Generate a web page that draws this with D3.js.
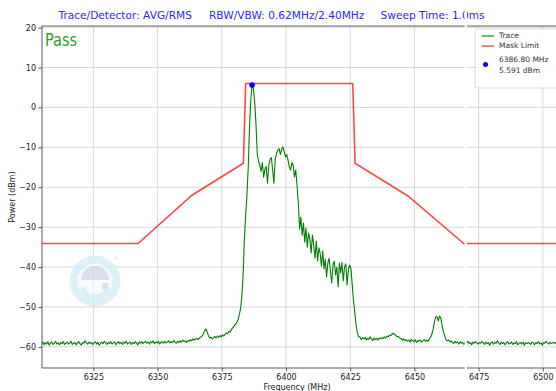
<!DOCTYPE html>
<html><head><meta charset="utf-8">
<script src="https://cdn.jsdelivr.net/npm/d3@7"></script>
<style>body{margin:0;background:#fff;} text{font-family:"DejaVu Sans",sans-serif;}</style>
</head><body><svg id="c" width="556" height="391"></svg>
<script>
// ---- data ----
const traceStart = 6304.8;   // MHz
const traceStep = 0.5;       // MHz
const tracePower = [
-59.2,-58.8,-59.5,-58.9,-59.3,-58.7,-59.6,-59.0,-58.8,-59.4,-59.1,-58.6,-59.3,-59.0,-59.5,-58.9,-59.2,-58.7,-59.4,-59.1,
-58.8,-59.3,-59.0,-58.6,-59.4,-59.1,-58.9,-59.5,-59.0,-58.7,-59.2,-59.6,-58.9,-59.1,-58.5,-59.0,-59.3,-58.8,-59.2,-58.9,
-59.4,-59.0,-58.7,-59.3,-58.9,-59.6,-59.1,-58.8,-59.2,-58.6,-59.0,-59.4,-58.9,-59.2,-58.7,-59.3,-59.0,-58.8,-59.5,-59.0,
-58.7,-59.2,-58.9,-59.4,-58.8,-59.1,-58.6,-59.3,-59.0,-58.8,-59.4,-58.9,-59.2,-58.7,-59.0,-59.5,-58.8,-59.1,-58.7,-59.2,
-58.9,-58.6,-59.1,-58.8,-59.3,-58.7,-59.0,-58.5,-59.2,-58.8,-59.0,-58.6,-59.3,-58.9,-58.7,-59.1,-58.6,-59.0,-58.8,-58.5,
-59.0,-58.7,-58.9,-58.4,-58.8,-59.1,-58.6,-58.9,-58.5,-58.8,-58.3,-58.7,-58.5,-58.9,-58.4,-58.6,-58.2,-58.5,-58.0,-58.3,
-58.1,-57.9,-58.2,-57.8,-57.6,-57.3,-56.8,-56.0,-55.5,-56.2,-57.2,-57.8,-57.6,-58.0,-57.7,-57.4,-57.8,-57.3,-57.6,-57.2,
-57.5,-57.0,-57.3,-56.8,-56.5,-56.7,-56.1,-56.3,-55.6,-55.2,-54.8,-54.3,-54.0,-53.2,-52.0,-50.5,-47.5,-42.0,-33.0,-27.0,
-22.0,-15.0,-5.0,2.0,5.591,4.8,1.5,-4.0,-11.5,-13.5,-14.5,-16.0,-13.8,-17.5,-15.5,-14.8,-19.0,-14.5,-13.0,-12.6,
-15.7,-19.0,-13.0,-11.5,-10.7,-10.3,-11.8,-10.5,-9.9,-11.1,-12.4,-11.8,-13.2,-14.9,-15.7,-13.8,-14.5,-17.4,-15.7,-19.5,
-24.0,-30.5,-27.5,-32.0,-29.0,-33.8,-30.2,-35.0,-31.5,-33.0,-36.5,-32.0,-34.5,-37.8,-33.5,-38.5,-35.2,-36.5,-39.8,-36.0,
-40.5,-38.0,-42.5,-39.0,-37.8,-41.0,-44.0,-39.5,-38.5,-42.0,-40.0,-45.0,-39.0,-41.5,-38.8,-43.5,-40.0,-39.2,-44.5,-40.5,
-39.5,-40.5,-44.5,-48.5,-51.5,-54.5,-56.5,-57.5,-57.5,-58.2,-57.7,-58.0,-57.6,-58.3,-57.9,-58.1,-57.5,-58.0,-58.4,-57.8,
-58.2,-57.9,-58.3,-57.8,-58.0,-57.7,-57.9,-57.5,-57.8,-57.3,-57.5,-57.1,-57.2,-56.8,-56.6,-56.9,-57.2,-57.5,-57.4,-57.8,
-57.9,-58.3,-58.0,-58.5,-58.2,-58.6,-58.3,-58.8,-58.1,-58.5,-58.7,-58.2,-58.9,-58.4,-58.6,-58.3,-58.8,-58.5,-58.2,-58.6,
-58.3,-58.6,-58.0,-57.6,-56.8,-55.5,-53.8,-52.5,-52.4,-53.5,-52.3,-52.8,-54.8,-56.2,-57.3,-58.2,-58.5,-58.3,-58.8,-58.5,
-58.9,-59.2,-58.6,-59.0,-58.8,-59.3,-58.7,-59.1,-58.9,-59.4,-58.8,-59.0,-58.6,-59.2,-58.9,-59.5,-58.8,-59.1,-58.7,-59.0,
-59.3,-58.9,-59.1,-58.6,-59.0,-59.4,-58.8,-59.2,-58.9,-59.6,-59.0,-58.7,-59.3,-58.9,-59.1,-58.5,-59.0,-59.4,-58.8,-59.2,
-58.9,-59.5,-59.0,-58.7,-59.3,-59.1,-58.8,-59.4,-59.0,-59.2,-58.7,-59.5,-59.1,-58.9,-59.3,-58.8,-59.6,-59.0,-59.2,-58.9,
-59.1,-59.4,-58.8,-59.0,-59.5,-58.9,-59.2,-58.7,-59.3,-59.0,-59.6,-58.9,-59.1,-58.6,-59.0,-59.3,-58.8,-59.2,-59.0,-58.9,
-59.2,-58.8,-59.1,-58.7
];
const maskFreq  = [6305, 6342.4, 6363.4, 6383.4, 6384.3, 6426.0, 6426.9, 6447.5, 6469.2, 6507];
const maskPower = [-34.1, -34.1, -22.0, -14.0, 6.0, 6.0, -14.0, -22.2, -34.1, -34.1];
const markerFreq = 6386.8, markerPower = 5.591;
const xTicks = [6325, 6350, 6375, 6400, 6425, 6450, 6475, 6500];
const yTicks = [-60, -50, -40, -30, -20, -10, 0, 10, 20];
const titleParts = ["Trace/Detector: AVG/RMS", "RBW/VBW: 0.62MHz/2.40MHz", "Sweep Time: 1.0ms"];
const legendLabels = ["Trace", "Mask Limit", "6386.80 MHz", "5.591 dBm"];

// ---- layout ----
const L = 42, R = 559, T = 26, B = 368;
const svg = d3.select("#c");
const x = d3.scaleLinear().domain([6305, 6506.3]).range([L, R]);
const y = d3.scaleLinear().domain([-65.3, 20.4]).range([B, T]);

svg.append("defs").append("clipPath").attr("id","clip")
  .append("rect").attr("x",L).attr("y",T).attr("width",R-L).attr("height",B-T);

// grid
const grid = svg.append("g").attr("stroke","#d4d4d4").attr("stroke-width",0.9);
xTicks.forEach(t => grid.append("line").attr("x1",x(t)).attr("x2",x(t)).attr("y1",T).attr("y2",B));
yTicks.forEach(t => grid.append("line").attr("x1",L).attr("x2",R).attr("y1",y(t)).attr("y2",y(t)));

// watermark logo
const logo = svg.append("g").attr("transform","translate(95,281)").attr("opacity",0.75);
logo.append("circle").attr("r",25.5).attr("fill","#d3edf8");
logo.append("circle").attr("r",17.5).attr("fill","#f3fafd");
logo.append("path").attr("d","M-14,-1 A14,14 0 0 1 14,-1 Z").attr("fill","#cad6e6");
logo.append("path").attr("d","M-13,6 A13.5,13.5 0 0 0 13,6").attr("fill","none").attr("stroke","#cfeaf7").attr("stroke-width",5);
logo.append("rect").attr("x",7).attr("y",2).attr("width",6).attr("height",6).attr("fill","#cdd6e0");
logo.append("circle").attr("cx",21).attr("cy",-23).attr("r",1.3).attr("fill","#c8dbe8");

// data lines
const plot = svg.append("g").attr("clip-path","url(#clip)");
const traceData = tracePower.map((p,i) => [traceStart + i*traceStep, p]);
plot.append("path").datum(traceData)
  .attr("fill","none").attr("stroke","#008000").attr("stroke-width",1.1).attr("stroke-linejoin","round")
  .attr("d", d3.line().x(d=>x(d[0])).y(d=>y(d[1])));
const maskData = maskFreq.map((f,i)=>[f, maskPower[i]]);
plot.append("path").datum(maskData)
  .attr("fill","none").attr("stroke","#ff0000").attr("stroke-opacity",0.72).attr("stroke-width",1.6)
  .attr("d", d3.line().x(d=>x(d[0])).y(d=>y(d[1])));
plot.append("circle").attr("cx",x(markerFreq)).attr("cy",y(markerPower)).attr("r",2.8).attr("fill","#0000ff");

// axes
const xa = svg.append("g").attr("transform",`translate(0,${B})`)
  .call(d3.axisBottom(x).tickValues(xTicks).tickSize(3.5).tickPadding(2.5).tickFormat(d3.format("d")));
const ya = svg.append("g").attr("transform",`translate(${L},0)`)
  .call(d3.axisLeft(y).tickValues(yTicks).tickSize(3.5).tickPadding(2.5));
[xa,ya].forEach(a=>{
  a.select(".domain").remove();
  a.selectAll("line").attr("stroke","#333").attr("stroke-width",0.8);
  a.selectAll("text").attr("font-size",8).attr("fill","#222").attr("font-family","DejaVu Sans");
});
// spines
svg.append("rect").attr("x",L).attr("y",T).attr("width",R-L).attr("height",B-T)
  .attr("fill","none").attr("stroke","#333").attr("stroke-width",0.8);

// labels
svg.append("text").attr("x",297).attr("y",389.5).attr("text-anchor","middle").attr("font-size",8).attr("fill","#222").text("Frequency (MHz)");
svg.append("text").attr("transform","translate(12,197) rotate(-90)").attr("text-anchor","middle")
  .attr("dominant-baseline","middle").attr("font-size",8).attr("fill","#222").text("Power (dBm)");

// title
[58.5, 209, 380.5].forEach((px,i)=>{
  svg.append("text").attr("x",px).attr("y",18.5).attr("font-size",10.6).attr("fill","#2a2aff").text(titleParts[i]);
});

// Pass
svg.append("text").attr("x",45).attr("y",46).attr("font-size",17).attr("font-family","DejaVu Sans Condensed")
  .attr("textLength",32).attr("lengthAdjust","spacingAndGlyphs").attr("fill","#2ca02c").text("Pass");

// legend
const lg = svg.append("g");
lg.append("rect").attr("x",475).attr("y",29).attr("width",84).attr("height",59).attr("rx",2.5)
  .attr("fill","#fff").attr("fill-opacity",0.85).attr("stroke","#d0d0d0").attr("stroke-width",0.8);
lg.append("line").attr("x1",481.5).attr("x2",494).attr("y1",36).attr("y2",36).attr("stroke","#008000").attr("stroke-width",1.1);
lg.append("line").attr("x1",481.5).attr("x2",494).attr("y1",46).attr("y2",46).attr("stroke","#ff0000").attr("stroke-opacity",0.85).attr("stroke-width",1.2);
lg.append("circle").attr("cx",485.5).attr("cy",64.5).attr("r",2.5).attr("fill","#0000ff");
[[36,0],[46,1],[59.5,2],[70.5,3]].forEach(([yy,i])=>{
  lg.append("text").attr("x",499).attr("y",yy).attr("dominant-baseline","middle").attr("font-size",7.5).attr("fill","#333").text(legendLabels[i]);
});

// white strip artifact present in the reference image
svg.append("rect").attr("x",464.6).attr("y",0).attr("width",2.3).attr("height",391).attr("fill","#fff");
</script></body></html>
